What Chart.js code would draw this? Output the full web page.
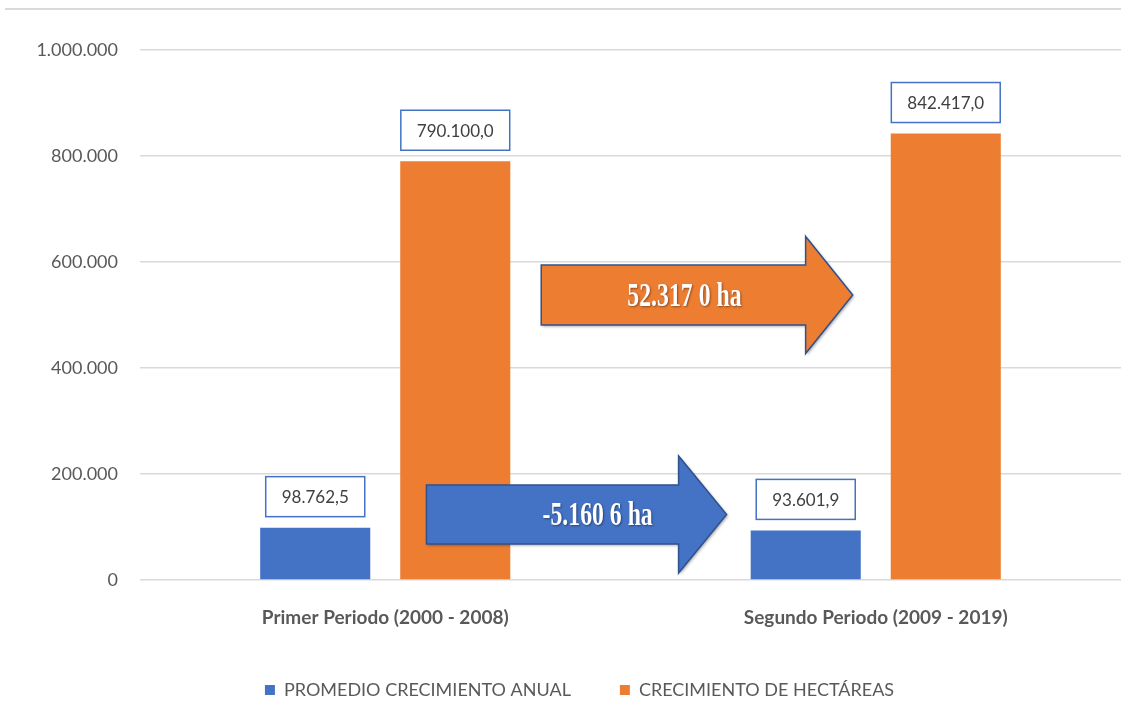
<!DOCTYPE html>
<html lang="es">

<head>
    <meta charset="utf-8">
    <title>Crecimiento de hectáreas</title>
    <script src="https://cdn.jsdelivr.net/npm/chart.js"></script>
    <style>
        html, body { margin: 0; padding: 0; background: #fff; }
        canvas { display: block; }
    </style>
</head>

<body>
    <canvas id="myChart" width="1121" height="702"></canvas>

    <script type="text/javascript">

        // data
        const categories = ['Primer Periodo (2000 - 2008)', 'Segundo Periodo (2009 - 2019)'];
        const seriesNames = ['PROMEDIO CRECIMIENTO ANUAL', 'CRECIMIENTO DE HECTÁREAS'];
        const promedioAnual = [98762.5, 93601.9];
        const crecimientoHa = [790100.0, 842417.0];
        const yTicks = [0, 200000, 400000, 600000, 800000, 1000000];
        const arrowTexts = ['52.317 0 ha', '-5.160 6 ha'];

        const BLUE = '#4472C4';
        const ORANGE = '#ED7D31';
        const GREY_TEXT = '#595959';

        // 1.234.567,8 style numbers
        function fmt(v, dec) {
            const parts = Number(v).toFixed(dec).split('.');
            parts[0] = parts[0].replace(/\B(?=(\d{3})+(?!\d))/g, '.');
            return parts.join(',');
        }

        // arrow annotations, x in category units, y in axis units
        const arrows = [
            { text: arrowTexts[0], fill: ORANGE, from: 0.318, neck: 0.857, tip: 0.953, textAt: 0.61, yMid: 537700, body: 56500, head: 110500 },
            { text: arrowTexts[1], fill: BLUE, from: 0.084, neck: 0.598, tip: 0.696, textAt: 0.433, yMid: 123600, body: 55700, head: 110500 }
        ];

        const frameLine = {
            id: 'frameLine',
            beforeDraw(chart) {
                const { ctx } = chart;
                ctx.save();
                ctx.strokeStyle = '#D9D9D9';
                ctx.lineWidth = 2;
                ctx.beginPath();
                ctx.moveTo(5, 9);
                ctx.lineTo(chart.width, 9);
                ctx.stroke();
                ctx.restore();
            }
        };

        const valueBoxes = {
            id: 'valueBoxes',
            afterDatasetsDraw(chart) {
                const { ctx } = chart;
                ctx.save();
                ctx.font = '17px Lato';
                ctx.textAlign = 'center';
                ctx.textBaseline = 'middle';
                chart.data.datasets.forEach((ds, i) => {
                    chart.getDatasetMeta(i).data.forEach((bar, j) => {
                        const label = fmt(ds.data[j], 1);
                        const w = ctx.measureText(label).width + 32;
                        const h = 40;
                        const bottom = bar.y - 11;
                        ctx.fillStyle = '#fff';
                        ctx.fillRect(bar.x - w / 2, bottom - h, w, h);
                        ctx.strokeStyle = BLUE;
                        ctx.lineWidth = 1.5;
                        ctx.strokeRect(bar.x - w / 2, bottom - h, w, h);
                        ctx.fillStyle = '#404040';
                        ctx.fillText(label, bar.x, bottom - h / 2 + 1);
                    });
                });
                ctx.restore();
            }
        };

        const arrowNotes = {
            id: 'arrowNotes',
            afterDraw(chart) {
                const { ctx, scales: { x, y } } = chart;
                arrows.forEach(a => {
                    const x0 = x.getPixelForValue(a.from);
                    const xn = x.getPixelForValue(a.neck);
                    const xt = x.getPixelForValue(a.tip);
                    const ym = y.getPixelForValue(a.yMid);
                    const bt = y.getPixelForValue(a.yMid + a.body);
                    const bb = y.getPixelForValue(a.yMid - a.body);
                    const ht = y.getPixelForValue(a.yMid + a.head);
                    const hb = y.getPixelForValue(a.yMid - a.head);
                    ctx.save();
                    ctx.beginPath();
                    ctx.moveTo(x0, bt);
                    ctx.lineTo(xn, bt);
                    ctx.lineTo(xn, ht);
                    ctx.lineTo(xt, ym);
                    ctx.lineTo(xn, hb);
                    ctx.lineTo(xn, bb);
                    ctx.lineTo(x0, bb);
                    ctx.closePath();
                    ctx.shadowColor = 'rgba(0,0,0,0.35)';
                    ctx.shadowBlur = 3;
                    ctx.shadowOffsetX = 1.5;
                    ctx.shadowOffsetY = 1.5;
                    ctx.fillStyle = a.fill;
                    ctx.fill();
                    ctx.shadowColor = 'transparent';
                    ctx.strokeStyle = '#2F528F';
                    ctx.lineWidth = 1.5;
                    ctx.stroke();

                    // condensed bold serif label
                    const tx = x.getPixelForValue(a.textAt);
                    ctx.translate(tx, ym + 2);
                    ctx.scale(0.72, 1);
                    ctx.font = 'bold 33px "Liberation Serif"';
                    ctx.textAlign = 'center';
                    ctx.textBaseline = 'middle';
                    ctx.shadowColor = 'rgba(0,0,0,0.4)';
                    ctx.shadowBlur = 2;
                    ctx.shadowOffsetX = 1;
                    ctx.shadowOffsetY = 1;
                    ctx.fillStyle = '#fff';
                    ctx.fillText(a.text, 0, 0);
                    ctx.restore();
                });
            }
        };

        const ctx = document.getElementById('myChart');
        new Chart(ctx, {
            type: 'bar',
            data: {
                labels: categories,
                datasets: [{
                    label: seriesNames[0],
                    data: promedioAnual,
                    backgroundColor: BLUE,
                    categoryPercentage: 0.571,
                    barPercentage: 0.786
                }, {
                    label: seriesNames[1],
                    data: crecimientoHa,
                    backgroundColor: ORANGE,
                    categoryPercentage: 0.571,
                    barPercentage: 0.786
                }]
            },
            options: {
                responsive: false,
                animation: false,
                layout: {
                    padding: { top: 50, right: 0, bottom: -7, left: 38 }
                },
                plugins: {
                    legend: {
                        position: 'bottom',
                        labels: {
                            boxWidth: 10,
                            boxHeight: 10,
                            padding: 49,
                            color: GREY_TEXT,
                            font: { family: 'Lato', size: 18 }
                        }
                    },
                    tooltip: { enabled: false }
                },
                scales: {
                    x: {
                        grid: { display: false, drawTicks: false },
                        border: { display: false },
                        ticks: {
                            color: GREY_TEXT,
                            padding: 26,
                            font: { family: 'Lato', size: 19, weight: 'bold' }
                        },
                        afterFit(scale) { scale.height = 52; }
                    },
                    y: {
                        min: 0,
                        max: 1000000,
                        afterBuildTicks(scale) {
                            scale.ticks = yTicks.map(v => ({ value: v }));
                        },
                        grid: { color: '#D9D9D9', lineWidth: 1.5, drawTicks: false },
                        border: { display: false },
                        ticks: {
                            color: GREY_TEXT,
                            padding: 22,
                            font: { family: 'Lato', size: 18 },
                            callback: v => fmt(v, 0)
                        },
                        afterFit(scale) { scale.width = 102; }
                    }
                }
            },
            plugins: [frameLine, valueBoxes, arrowNotes]
        });
    </script>
</body>

</html>
